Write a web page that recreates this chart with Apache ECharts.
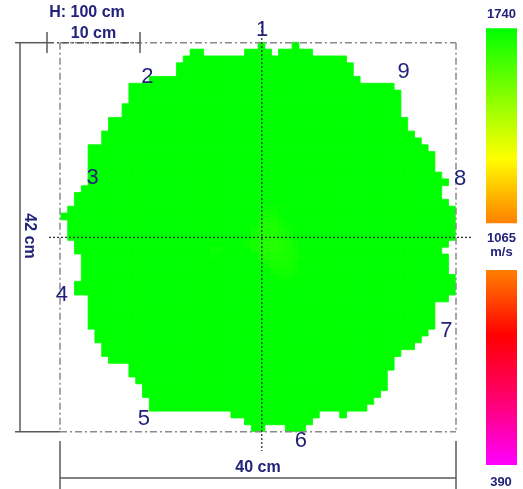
<!DOCTYPE html>
<html>
<head>
<meta charset="utf-8">
<script src="https://cdn.jsdelivr.net/npm/echarts@6/dist/echarts.min.js"></script>
<style>
  html, body { margin: 0; padding: 0; background: #ffffff; }
  #chart { width: 523px; height: 489px; }
</style>
</head>
<body>
<div id="chart"></div>
<script>
// ---- Tomogram data: sound velocity (m/s) on a 58 x 57 cell grid ----
const nCols = 58;
const nRows = 57;
const baseVelocity = 1740;

// Filled cell runs per grid row, [firstCol, lastCol]
const rowSegments = [
  [[29, 29], [34, 34]],
  [[19, 20], [27, 30], [32, 36]],
  [[18, 41]],
  [[17, 42]],
  [[17, 42]],
  [[13, 43]],
  [[10, 48]],
  [[10, 49]],
  [[10, 49]],
  [[9, 49]],
  [[9, 49]],
  [[7, 50]],
  [[7, 50]],
  [[6, 51]],
  [[6, 52]],
  [[4, 53]],
  [[4, 54]],
  [[4, 54]],
  [[4, 54]],
  [[4, 55]],
  [[4, 56]],
  [[3, 55]],
  [[2, 55]],
  [[2, 56]],
  [[1, 57]],
  [[0, 57]],
  [[1, 57]],
  [[1, 57]],
  [[1, 57]],
  [[2, 56]],
  [[2, 55]],
  [[3, 56]],
  [[3, 56]],
  [[3, 56]],
  [[3, 57]],
  [[2, 57]],
  [[2, 57]],
  [[4, 56]],
  [[4, 54]],
  [[4, 54]],
  [[4, 54]],
  [[4, 54]],
  [[5, 53]],
  [[5, 52]],
  [[6, 51]],
  [[6, 49]],
  [[7, 48]],
  [[10, 48]],
  [[10, 47]],
  [[11, 47]],
  [[12, 47]],
  [[12, 46]],
  [[13, 45]],
  [[13, 44]],
  [[25, 37], [41, 41]],
  [[27, 36]],
  [[28, 29], [33, 35]]
];

// Slightly slower cells near the pith: [col, row, velocity]
const slowCells = [
  [30, 24, 1725], [31, 24, 1725],
  [29, 25, 1720], [30, 25, 1710], [31, 25, 1715],
  [29, 26, 1710], [30, 26, 1700], [31, 26, 1700], [32, 26, 1720],
  [28, 27, 1715], [29, 27, 1700], [30, 27, 1690], [31, 27, 1690], [32, 27, 1705], [33, 27, 1720],
  [28, 28, 1710], [29, 28, 1695], [30, 28, 1685], [31, 28, 1680], [32, 28, 1690], [33, 28, 1710],
  [27, 29, 1720], [28, 29, 1705], [29, 29, 1690], [30, 29, 1680], [31, 29, 1675], [32, 29, 1685], [33, 29, 1700], [34, 29, 1720],
  [22, 30, 1725], [23, 30, 1725], [28, 30, 1710], [29, 30, 1695], [30, 30, 1685], [31, 30, 1680], [32, 30, 1685], [33, 30, 1695], [34, 30, 1710],
  [22, 31, 1725], [29, 31, 1705], [30, 31, 1695], [31, 31, 1690], [32, 31, 1690], [33, 31, 1700], [34, 31, 1715], [35, 31, 1725],
  [30, 32, 1710], [31, 32, 1700], [32, 32, 1700], [33, 32, 1705], [34, 32, 1715],
  [31, 33, 1715], [32, 33, 1710], [33, 33, 1715], [34, 33, 1720],
  [32, 34, 1725], [33, 34, 1725]
];

// Sensor numbers and their places in grid-cell units
const sensorNames = ['1', '2', '3', '4', '5', '6', '7', '8', '9'];
const sensorCol = [29.6, 12.7, 4.65, 0.16, 12.2, 35.3, 56.7, 58.7, 50.4];
const sensorRow = [-1.8, 5.05, 19.9, 37.0, 55.1, 58.3, 42.3, 20.0, 4.4];

// Velocity scale
const scaleMin = 390;
const scaleMid = 1065;
const scaleMax = 1740;
const scaleUnit = 'm/s';
const paletteColors = ['#ff00ff', '#ff0070', '#ff0000', '#ff8000', '#ffff00', '#80ff00', '#00ff00'];

// Dimension texts
const heightText = 'H: 100 cm';
const scaleBarText = '10 cm';
const widthText = '40 cm';
const depthText = '42 cm';

// ---- build velocity cells ----
const slowMap = {};
slowCells.forEach(function (c) { slowMap[c[0] + ',' + c[1]] = c[2]; });
const cells = [];
rowSegments.forEach(function (segs, r) {
  segs.forEach(function (s) {
    for (let c = s[0]; c <= s[1]; c++) {
      const key = c + ',' + r;
      cells.push([c, r, slowMap[key] !== undefined ? slowMap[key] : baseVelocity]);
    }
  });
});
const colIdx = Array.from({ length: nCols }, function (_, i) { return i; });
const rowIdx = Array.from({ length: nRows }, function (_, i) { return i; });
const sensorPoints = sensorNames.map(function (n, i) { return [sensorCol[i], sensorRow[i], n]; });

// ---- layout (pixels) ----
const plot = { left: 60.9, top: 42.3, width: 394.4, height: 389.3 };
const box = { x1: 60, y1: 42.7, x2: 456, y2: 431.8 };
const navy = '#22227a';
const textFont = 'Liberation Sans, Arial, sans-serif';
const dashDot = [7, 3, 2, 3];
const lineGray = '#8a8a8a';
const darkGray = '#5a5a5a';

function seg(x1, y1, x2, y2, stroke, width, dash, z) {
  return {
    type: 'line', silent: true, z: z || 10,
    shape: { x1: x1, y1: y1, x2: x2, y2: y2 },
    style: { stroke: stroke, lineWidth: width, lineDash: dash || null }
  };
}
function label(text, x, y, size, weight, rot) {
  return {
    type: 'text', silent: true, z: 30, x: x, y: y, rotation: rot || 0,
    style: {
      text: text, fill: navy, font: weight + ' ' + size + 'px ' + textFont,
      align: 'center', verticalAlign: 'middle'
    }
  };
}
function gradient(colors) {
  const n = colors.length - 1;
  return {
    type: 'linear', x: 0, y: 0, x2: 0, y2: 1,
    colorStops: colors.map(function (c, i) { return { offset: i / n, color: c }; })
  };
}

const upperColors = paletteColors.slice(3).reverse();
const lowerColors = paletteColors.slice(0, 4).reverse();

const graphics = [
  // bounding rectangle (dash-dot)
  seg(box.x1, box.y1, box.x2, box.y1, lineGray, 1.5, dashDot),
  seg(box.x1, box.y2, box.x2, box.y2, lineGray, 1.5, dashDot),
  seg(box.x1, box.y1, box.x1, box.y2, lineGray, 1.5, dashDot),
  seg(box.x2, box.y1, box.x2, box.y2, lineGray, 1.5, dashDot),
  // centre crosshair (dotted)
  seg(49, 237.4, 471, 237.4, '#333333', 1.3, [2, 2], 12),
  seg(261.8, 22, 261.8, 451, '#333333', 1.3, [2, 2], 12),
  // depth bracket on the left
  seg(20, box.y1, 20, box.y2, darkGray, 1.5),
  seg(15, box.y1, 47, box.y1, darkGray, 1.5),
  seg(15, box.y2, box.x1, box.y2, darkGray, 1.5),
  // 10 cm scale bar
  seg(47, box.y1, 140, box.y1, darkGray, 1.5, dashDot),
  seg(47, 32, 47, 53, darkGray, 1.5),
  seg(140, 32, 140, 53, darkGray, 1.5),
  // width dimension at the bottom
  seg(box.x1, 478, box.x2, 478, darkGray, 1.5),
  seg(box.x1, 441, box.x1, 489, darkGray, 1.5),
  seg(box.x2, 441, box.x2, 489, darkGray, 1.5),
  // texts
  label(heightText, 87, 13, 16, 'bold'),
  label(scaleBarText, 93.5, 34, 16, 'bold'),
  label(widthText, 258, 468, 16, 'bold'),
  label(depthText, 29.7, 236, 16, 'bold', -Math.PI / 2),
  // velocity colour bars
  { type: 'rect', silent: true, z: 5, shape: { x: 486, y: 28.3, width: 31, height: 195 }, style: { fill: gradient(upperColors) } },
  { type: 'rect', silent: true, z: 5, shape: { x: 486, y: 270, width: 31, height: 195 }, style: { fill: gradient(lowerColors) } },
  label(String(scaleMax), 501.5, 14, 13, 'bold'),
  label(String(scaleMid), 501.5, 238.5, 13, 'bold'),
  label(scaleUnit, 501.5, 252.5, 13, 'bold'),
  label(String(scaleMin), 501, 482, 13, 'bold')
];

// Each velocity cell is a rectangle sized by the category bands; filled and
// stroked with its mapped colour so neighbouring cells join without seams.
function renderCell(params, api) {
  const p = api.coord([api.value(0), api.value(1)]);
  const s = api.size([1, 1]);
  const color = api.visual('color');
  return {
    type: 'rect',
    shape: { x: p[0] - s[0] / 2, y: p[1] - s[1] / 2, width: s[0], height: s[1] },
    style: { fill: color, stroke: color, lineWidth: 0.8 }
  };
}

const chart = echarts.init(document.getElementById('chart'), null, { renderer: 'canvas' });
chart.setOption({
  animation: false,
  backgroundColor: '#ffffff',
  grid: [
    Object.assign({ containLabel: false }, plot),
    Object.assign({ containLabel: false }, plot)
  ],
  xAxis: [
    { type: 'category', gridIndex: 0, data: colIdx, show: false },
    { type: 'value', gridIndex: 1, min: 0, max: nCols, show: false }
  ],
  yAxis: [
    { type: 'category', gridIndex: 0, data: rowIdx, inverse: true, show: false },
    { type: 'value', gridIndex: 1, min: 0, max: nRows, inverse: true, show: false }
  ],
  visualMap: {
    type: 'continuous', show: false, min: scaleMin, max: scaleMax,
    dimension: 2, seriesIndex: 0,
    inRange: { color: paletteColors }
  },
  series: [
    {
      type: 'custom', xAxisIndex: 0, yAxisIndex: 0,
      renderItem: renderCell, encode: { x: 0, y: 1 },
      data: cells, silent: true, clip: false
    },
    {
      type: 'scatter', xAxisIndex: 1, yAxisIndex: 1, clip: false, silent: true,
      symbolSize: 1, itemStyle: { color: 'rgba(0,0,0,0)', opacity: 1 }, z: 20,
      data: sensorPoints,
      label: {
        show: true, position: 'inside', formatter: function (p) { return p.data[2]; },
        color: navy, opacity: 1, textBorderWidth: 0,
        fontSize: 22, fontFamily: textFont
      }
    }
  ],
  graphic: graphics
});
</script>
</body>
</html>
